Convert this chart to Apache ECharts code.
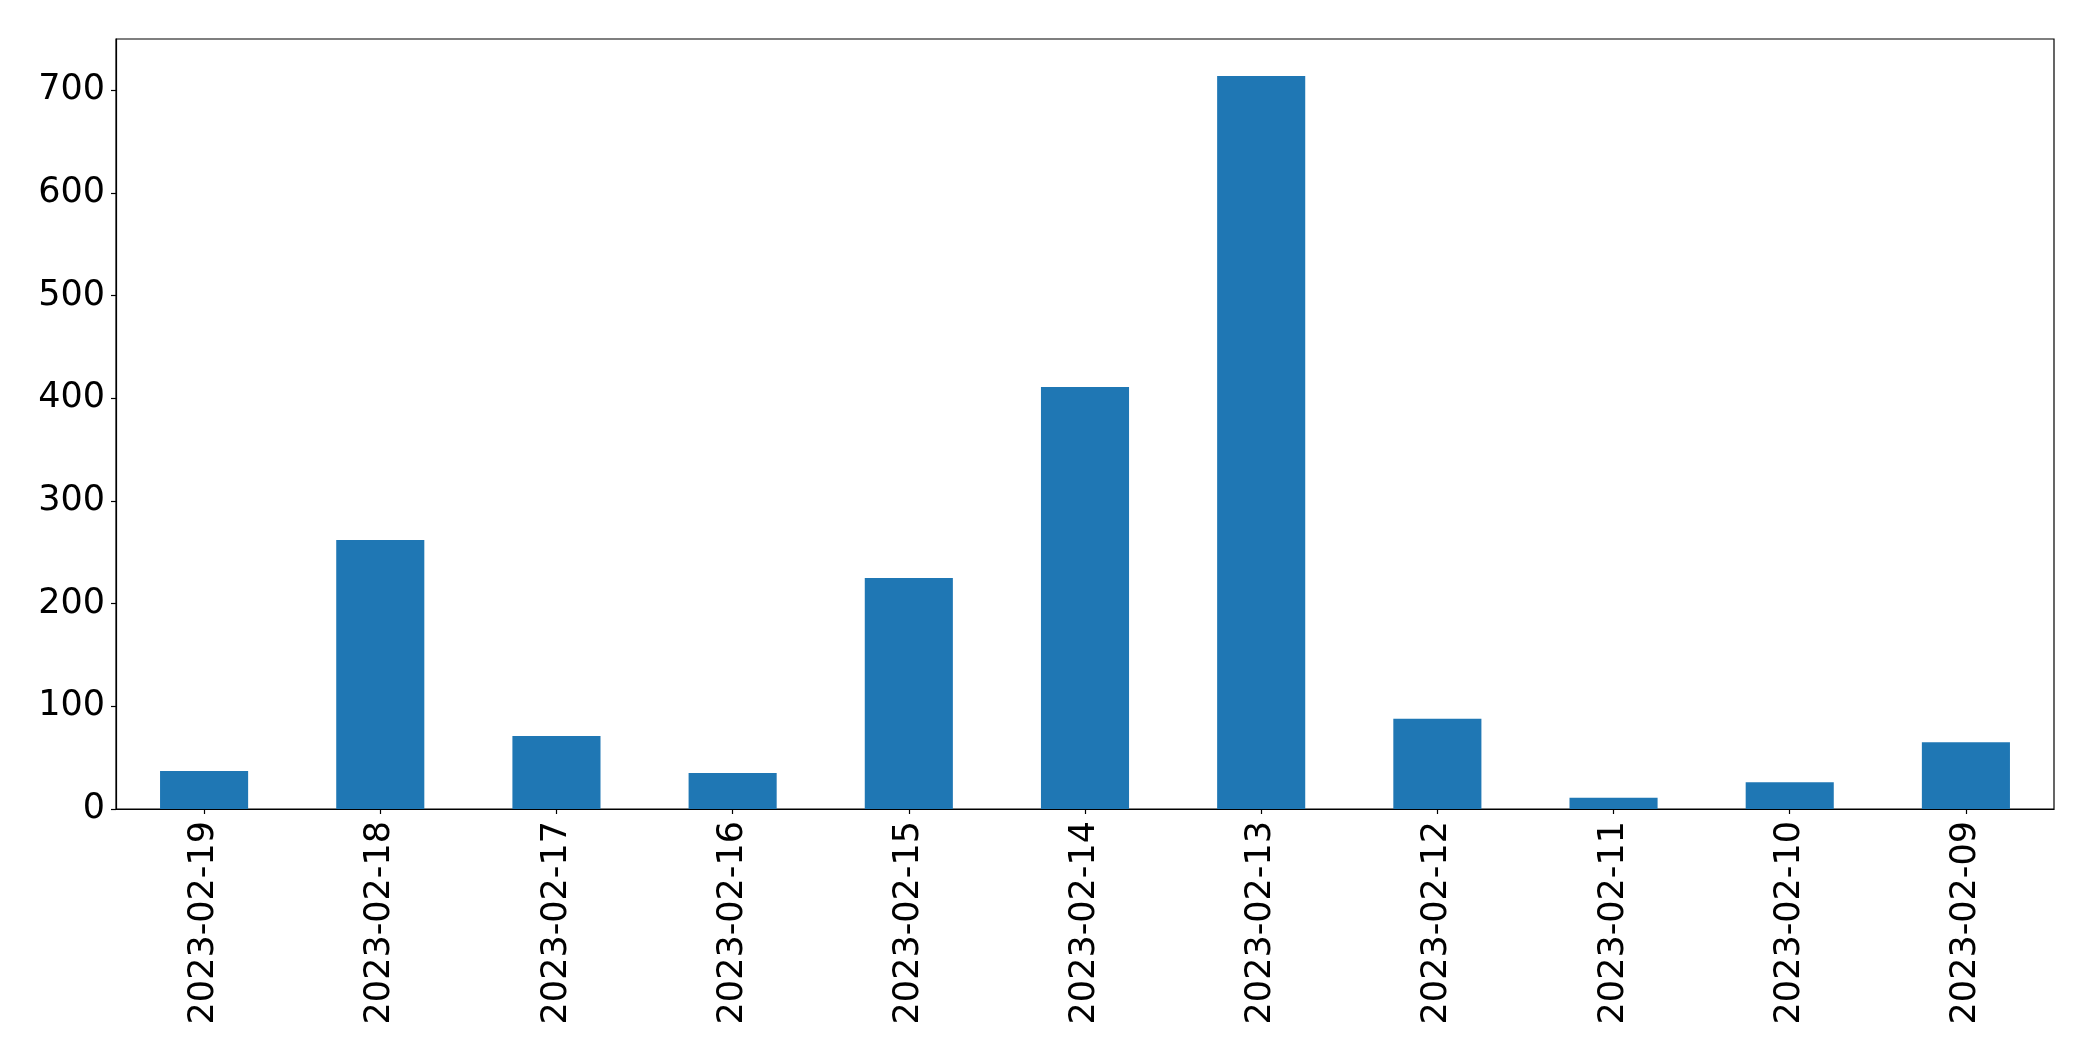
<!DOCTYPE html>
<html>
<head>
<meta charset="utf-8">
<script src="https://cdn.jsdelivr.net/npm/echarts@6/dist/echarts.min.js"></script>
<style>
html,body{margin:0;padding:0;background:#fff;}
#chart{width:2093px;height:1061px;}
</style>
</head>
<body>
<div id="chart"></div>
<script>
const categories = ["2023-02-19","2023-02-18","2023-02-17","2023-02-16","2023-02-15","2023-02-14","2023-02-13","2023-02-12","2023-02-11","2023-02-10","2023-02-09"];
const values = [37, 262, 71, 35, 225, 411, 714, 88, 11, 26, 65];
const yTicks = [0, 100, 200, 300, 400, 500, 600, 700];

const chart = echarts.init(document.getElementById('chart'), null, {renderer: 'canvas'});
chart.setOption({
  animation: false,
  backgroundColor: '#ffffff',
  grid: {left: 116, right: 39, top: 39, bottom: 252, show: true, borderColor: '#000', borderWidth: 1.2, backgroundColor: 'transparent'},
  xAxis: {
    type: 'category',
    data: categories,
    axisLine: {show: true, lineStyle: {color: '#000', width: 1.2}},
    axisTick: {show: true, alignWithLabel: true, length: 5, lineStyle: {color: '#000', width: 1.2}},
    axisLabel: {rotate: 90, interval: 0, margin: 12, color: '#000', fontFamily: 'DejaVu Sans', fontSize: 35},
    splitLine: {show: false}
  },
  yAxis: {
    type: 'value',
    min: 0, max: 750,
    axisLine: {show: true, lineStyle: {color: '#000', width: 1.2}},
    axisTick: {show: true, length: 5, customValues: yTicks, lineStyle: {color: '#000', width: 1.2}},
    axisLabel: {margin: 11, color: '#000', fontFamily: 'DejaVu Sans', fontSize: 35, customValues: yTicks},
    splitLine: {show: false}
  },
  series: [{
    type: 'bar',
    data: values,
    barWidth: '50%',
    itemStyle: {color: '#1f77b4'}
  }]
});
</script>
</body>
</html>
